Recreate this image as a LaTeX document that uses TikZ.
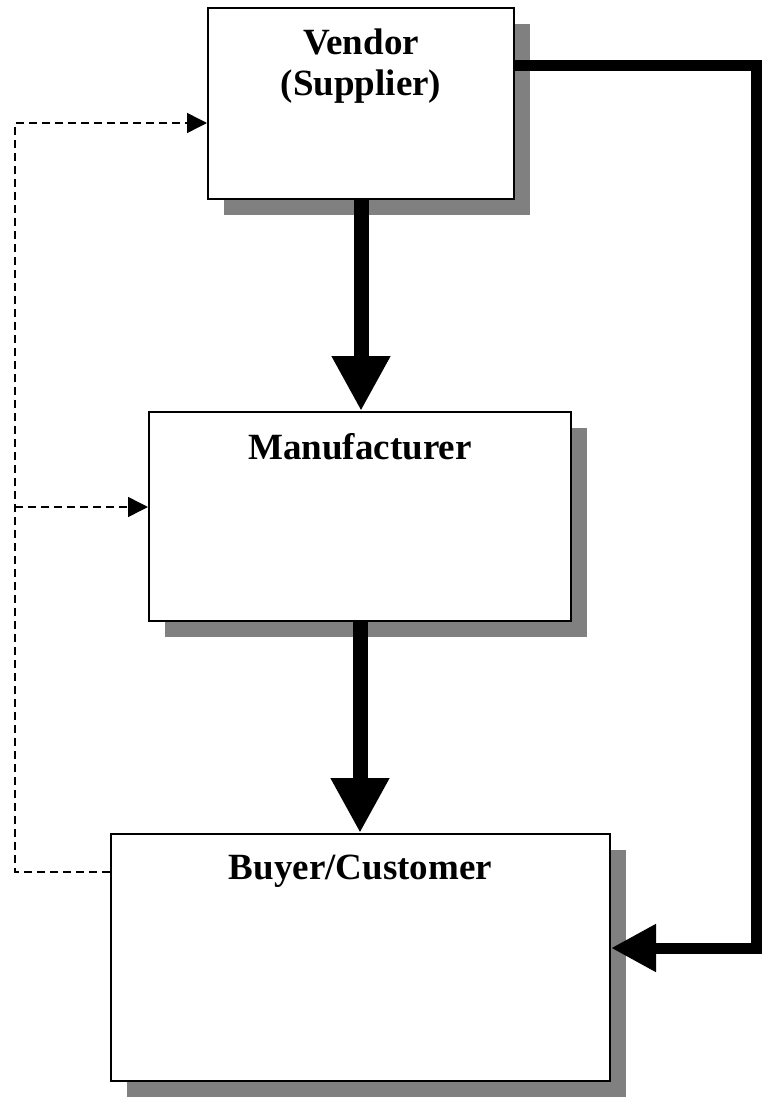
\documentclass[tikz,border=0pt]{standalone}
\usepackage{fontspec}
\setmainfont{Liberation Serif}
\usetikzlibrary{positioning,shadows,arrows.meta}

\tikzset{
  stage/.style={draw, line width=2pt, fill=white, inner sep=0pt,
    drop shadow={shadow xshift=16pt, shadow yshift=-16pt, fill=gray, opacity=1}},
  stagename/.style={inner sep=0pt, align=center, font=\fontsize{37}{41}\selectfont\bfseries},
  flow/.style={line width=15pt, -{Triangle[length=55pt,width=55pt]}},
  ship/.style={line width=11pt, -{Triangle[length=45pt,width=45pt]}},
  info/.style={line width=1.5pt, dash pattern=on 8pt off 5pt, -{Triangle[length=20pt,width=20pt]}}
}

\begin{document}
\begin{tikzpicture}[x=1pt,y=-1pt]
\useasboundingbox (0,0) rectangle (762,1097);
% the three stages
\node[stage, minimum width=306pt, minimum height=191pt] (vendor) at (361,103.5) {};
\node[stage, minimum width=422pt, minimum height=209pt] (manuf) at (360,516.5) {};
\node[stage, minimum width=499pt, minimum height=247pt] (buyer) at (360.5,957.5) {};
\node[stagename, below=22pt of vendor.north] (vendorname) {Vendor\\(Supplier)};
\node[stagename, below=22pt of manuf.north] (manufname) {Manufacturer};
\node[stagename, below=22pt of buyer.north] (buyername) {Buyer/Customer};
% material flow
\draw[flow] (vendor.south) -- (vendor.south |- manuf.north);
\draw[flow] (manuf.south) -- (manuf.south |- buyer.north);
\coordinate (rim) at (756.5,948);
\draw[ship] ([yshift=38pt]vendor.east) -| (rim) -- ([yshift=9.5pt]buyer.east);
% information feedback
\coordinate (lane) at (15,0);
\coordinate (bout) at ([yshift=85.5pt]buyer.west);
\coordinate (vin) at ([yshift=-19.5pt]vendor.west);
\coordinate (min) at ([yshift=9.5pt]manuf.west);
\draw[info] (bout) -| (lane |- vin) -- (vin);
\draw[info] (lane |- min) -- (min);
\end{tikzpicture}
\end{document}
